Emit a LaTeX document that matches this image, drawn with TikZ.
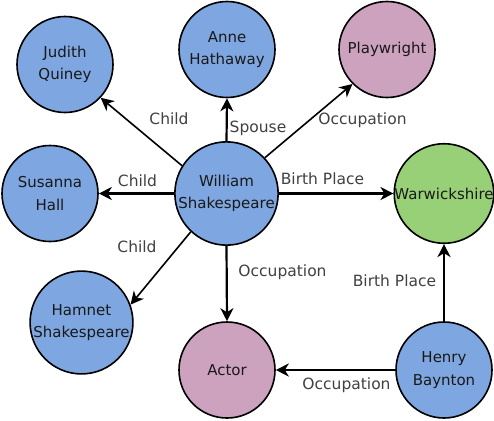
\documentclass[tikz,border=0pt]{standalone}
\usepackage{fontspec}
\setmainfont{DejaVu Sans}
\usetikzlibrary{arrows.meta}
\definecolor{nblue}{HTML}{7EA6E0}
\definecolor{npink}{HTML}{CDA2BE}
\definecolor{ngreen}{HTML}{97D077}
\begin{document}
\begin{tikzpicture}[x=1pt,y=-1pt,
  ent/.style={circle,draw=black,line width=1.6pt,minimum size=96pt,inner sep=0pt,align=center,
    font=\fontsize{15}{22.5}\selectfont,text=black!90},
  rel/.style={-{Stealth[length=13pt,width=13pt,inset=4pt]},line width=2.2pt,draw=black},
  lab/.style={font=\fontsize{15.5}{17}\selectfont,text=black!75,inner sep=0pt}]
\useasboundingbox (0,0) rectangle (494,420);
% nodes
\node[ent,fill=nblue] (ws) at (226.5,193.5) {William\\Shakespeare};
\node[ent,fill=nblue] (jq) at (65,64.5) {Judith\\Quiney};
\node[ent,fill=nblue] (ah) at (227,49.5) {Anne\\Hathaway};
\node[ent,fill=npink] (pw) at (387,49.5) {Playwright};
\node[ent,fill=nblue] (sh) at (50,193.5) {Susanna\\Hall};
\node[ent,fill=ngreen] (wa) at (444,193.5) {Warwickshire};
\node[ent,fill=nblue] (hs) at (81.5,322.5) {Hamnet\\Shakespeare};
\node[ent,fill=npink] (ac) at (227,370) {Actor};
\node[ent,fill=nblue] (hb) at (444,370) {Henry\\Baynton};
% connectors
\draw[rel,line width=1.6pt] (ws.148) -- (jq.-43);
\draw[rel] (ws.north) -- (ah.south);
\draw[rel,line width=1.6pt] (ws.43) -- (pw.225);
\draw[rel] (ws.west) -- (sh.east);
\draw[rel] (ws.east) -- (wa.west);
\draw[rel,line width=1.6pt] (ws.227) -- (hs.20);
\draw[rel] (ws.south) -- (ac.north);
\draw[rel] (hb.north) -- (wa.south);
\draw[rel] (hb.west) -- (ac.east);
% labels
\node[lab] (l1) at (169,119) {Child};
\node[lab] (l2) at (258,128) {Spouse};
\node[lab] (l3) at (362.5,120) {Occupation};
\node[lab] (l4) at (137.5,181) {Child};
\node[lab] (l5) at (322.5,179) {Birth Place};
\node[lab] (l6) at (137,247) {Child};
\node[lab] (l7) at (282.5,272) {Occupation};
\node[lab] (l8) at (394.5,281) {Birth Place};
\node[lab] (l9) at (346.5,385) {Occupation};
\end{tikzpicture}
\end{document}
